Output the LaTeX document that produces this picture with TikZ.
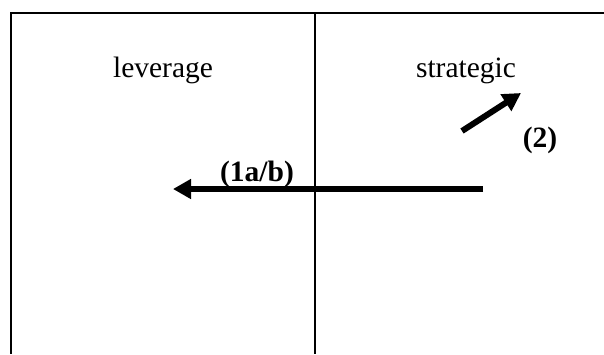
\documentclass[tikz,border=0pt]{standalone}
\usepackage{fontspec}
\setmainfont{Liberation Serif}
\usetikzlibrary{arrows.meta}
\begin{document}
\begin{tikzpicture}[x=1pt,y=-1pt,
  frame/.style={line width=2.4pt},
  divider/.style={line width=1.8pt},
  bigarrow/.style={line width=6pt,-{Triangle[length=18pt,width=19pt]}},
  lbl/.style={font=\fontsize{29.5}{34}\selectfont,anchor=base,inner sep=0pt},
  blbl/.style={font=\fontsize{29.5}{34}\selectfont\bfseries,anchor=base,inner sep=0pt}]
\useasboundingbox (0,0) rectangle (604,354);
\fill[white] (0,0) rectangle (604,354);
\coordinate (tl) at (11,13);
\coordinate (tr) at (604,13);
\coordinate (bl) at (11,354);
\coordinate (dt) at (315,13);
\coordinate (db) at (315,354);
\draw[frame] (tr) -- (tl) -- (bl);
\draw[divider] (dt) -- (db);
\node[lbl] (lev) at (163,77) {leverage};
\node[lbl] (str) at (466,77) {strategic};
\node[blbl] (l1) at (257,181) {(1a/b)};
\node[blbl] (l2) at (540,147) {(2)};
\coordinate (a1s) at (483,189);
\coordinate (a1e) at (173,189);
\coordinate (a2s) at (462,131);
\coordinate (a2e) at (521,93);
\draw[bigarrow] (a1s) -- (a1e);
\draw[bigarrow] (a2s) -- (a2e);
\end{tikzpicture}
\end{document}
